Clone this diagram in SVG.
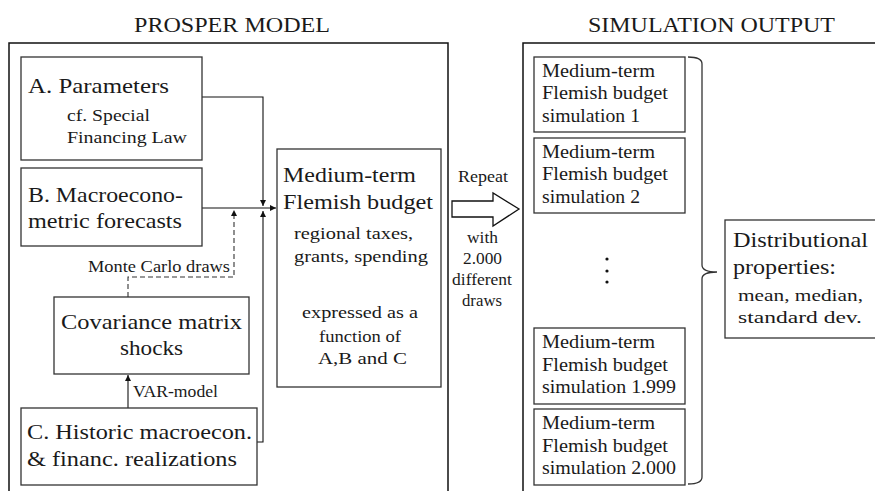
<svg xmlns="http://www.w3.org/2000/svg" width="875" height="491" viewBox="0 0 875 491" font-family="'Liberation Serif', 'DejaVu Serif', serif">
<style>
text{font-family:'Liberation Serif','DejaVu Serif',serif;fill:#1a1a1a}
.big{font-size:22px}
.mid{font-size:18px}
.sm{font-size:16.5px}
.ttl{font-size:20px}
.frame{fill:none;stroke:#111;stroke-width:1.5}
.box{fill:#fff;stroke:#333;stroke-width:1.3}
.con{fill:none;stroke:#111;stroke-width:1.1}
.dash{fill:none;stroke:#333;stroke-width:1.1;stroke-dasharray:5,3}
</style>
<defs>
<marker id="ah" markerUnits="userSpaceOnUse" markerWidth="7" markerHeight="6" refX="6" refY="3" orient="auto">
<path d="M0,0 L6,3 L0,6 z" fill="#111"/>
</marker>
</defs>
<rect width="875" height="491" fill="#fff"/>

<g id="prosper-frame">
<path class="frame" d="M9,495 V43 H448 V495"/>
<text class="ttl" x="134" y="32" textLength="196" lengthAdjust="spacingAndGlyphs">PROSPER MODEL</text>
</g>
<g id="simulation-frame">
<path class="frame" d="M523,495 V43 H880"/>
<text class="ttl" x="588" y="32" textLength="247" lengthAdjust="spacingAndGlyphs">SIMULATION OUTPUT</text>
</g>

<g id="connectors">
<path class="con" d="M202,97 H263 V206" marker-end="url(#ah)"/>
<path class="con" d="M202,208 H276" marker-end="url(#ah)"/>
<path class="con" d="M257,442 H263 V211" marker-end="url(#ah)"/>
<path class="con" d="M128,408 V375" marker-end="url(#ah)"/>
<path class="dash" d="M128,297 V277 H234 V214"/>
<path d="M231,216 L234,210 L237,216 z" fill="#111"/>
<text class="sm" x="88" y="272" textLength="142" lengthAdjust="spacingAndGlyphs">Monte Carlo draws</text>
<text class="sm" x="133" y="397" textLength="85" lengthAdjust="spacingAndGlyphs">VAR-model</text>
<path d="M452,201 H493 V193 L519,209 L493,226 V217 H452 z" fill="#fff" stroke="#111" stroke-width="1.3"/>
<text class="sm" x="458" y="182" textLength="50" lengthAdjust="spacingAndGlyphs">Repeat</text>
<text class="sm" x="467" y="243" textLength="31" lengthAdjust="spacingAndGlyphs">with</text>
<text class="sm" x="463" y="264" textLength="39" lengthAdjust="spacingAndGlyphs">2.000</text>
<text class="sm" x="452" y="285" textLength="60" lengthAdjust="spacingAndGlyphs">different</text>
<text class="sm" x="462" y="306" textLength="40" lengthAdjust="spacingAndGlyphs">draws</text>
<path d="M688,57 Q702,57 702,64 V265 Q702,272 717,272 Q702,272 702,279 V477 Q702,484 688,484" fill="none" stroke="#333" stroke-width="1.3"/>
</g>

<g id="node-a">
<rect class="box" x="21" y="57" width="181" height="103"/>
<text class="big" x="28" y="93" textLength="141" lengthAdjust="spacingAndGlyphs">A. Parameters</text>
<text class="sm" x="67" y="121" textLength="83" lengthAdjust="spacingAndGlyphs">cf. Special</text>
<text class="sm" x="67" y="143" textLength="120" lengthAdjust="spacingAndGlyphs">Financing Law</text>
</g>
<g id="node-b">
<rect class="box" x="21" y="168" width="181" height="78"/>
<text class="big" x="28" y="202" textLength="155" lengthAdjust="spacingAndGlyphs">B. Macroecono-</text>
<text class="big" x="28" y="228" textLength="154" lengthAdjust="spacingAndGlyphs">metric forecasts</text>
</g>
<g id="node-cov">
<rect class="box" x="54" y="297" width="195" height="77"/>
<text class="big" x="61" y="329" textLength="181" lengthAdjust="spacingAndGlyphs">Covariance matrix</text>
<text class="big" x="120" y="355" textLength="63" lengthAdjust="spacingAndGlyphs">shocks</text>
</g>
<g id="node-c">
<rect class="box" x="21" y="408" width="236" height="77"/>
<text class="big" x="27" y="439" textLength="225" lengthAdjust="spacingAndGlyphs">C. Historic macroecon.</text>
<text class="big" x="27" y="466" textLength="210" lengthAdjust="spacingAndGlyphs">&amp; financ. realizations</text>
</g>
<g id="node-budget">
<rect class="box" x="277" y="149" width="164" height="238"/>
<text class="big" x="283" y="182" textLength="133" lengthAdjust="spacingAndGlyphs">Medium-term</text>
<text class="big" x="283" y="209" textLength="150" lengthAdjust="spacingAndGlyphs">Flemish budget</text>
<text class="sm" x="294" y="239" textLength="119" lengthAdjust="spacingAndGlyphs">regional taxes,</text>
<text class="sm" x="294" y="262" textLength="134" lengthAdjust="spacingAndGlyphs">grants, spending</text>
<text class="sm" x="302" y="318" textLength="116" lengthAdjust="spacingAndGlyphs">expressed as a</text>
<text class="sm" x="319" y="342" textLength="82" lengthAdjust="spacingAndGlyphs">function of</text>
<text class="sm" x="318" y="364" textLength="89" lengthAdjust="spacingAndGlyphs">A,B and C</text>
</g>
<g id="sim-1">
<rect class="box" x="534" y="57" width="151" height="75"/>
<text class="mid" x="542" y="77" textLength="113" lengthAdjust="spacingAndGlyphs">Medium-term</text>
<text class="mid" x="542" y="99" textLength="126" lengthAdjust="spacingAndGlyphs">Flemish budget</text>
<text class="mid" x="542" y="122" textLength="98" lengthAdjust="spacingAndGlyphs">simulation 1</text>
</g>
<g id="sim-2">
<rect class="box" x="534" y="138" width="151" height="75"/>
<text class="mid" x="542" y="158" textLength="113" lengthAdjust="spacingAndGlyphs">Medium-term</text>
<text class="mid" x="542" y="180" textLength="126" lengthAdjust="spacingAndGlyphs">Flemish budget</text>
<text class="mid" x="542" y="203" textLength="98" lengthAdjust="spacingAndGlyphs">simulation 2</text>
</g>
<g id="dots">
<circle cx="607" cy="259" r="1.6" fill="#111"/>
<circle cx="607" cy="271" r="1.6" fill="#111"/>
<circle cx="607" cy="282" r="1.6" fill="#111"/>
</g>
<g id="sim-1999">
<rect class="box" x="534" y="328" width="151" height="76"/>
<text class="mid" x="542" y="348" textLength="113" lengthAdjust="spacingAndGlyphs">Medium-term</text>
<text class="mid" x="542" y="371" textLength="126" lengthAdjust="spacingAndGlyphs">Flemish budget</text>
<text class="mid" x="542" y="393" textLength="134" lengthAdjust="spacingAndGlyphs">simulation 1.999</text>
</g>
<g id="sim-2000">
<rect class="box" x="534" y="409" width="151" height="76"/>
<text class="mid" x="542" y="429" textLength="113" lengthAdjust="spacingAndGlyphs">Medium-term</text>
<text class="mid" x="542" y="452" textLength="126" lengthAdjust="spacingAndGlyphs">Flemish budget</text>
<text class="mid" x="542" y="474" textLength="134" lengthAdjust="spacingAndGlyphs">simulation 2.000</text>
</g>
<g id="node-dist">
<rect class="box" x="725" y="220" width="160" height="118"/>
<text class="big" x="733" y="247" textLength="135" lengthAdjust="spacingAndGlyphs">Distributional</text>
<text class="big" x="733" y="274" textLength="103" lengthAdjust="spacingAndGlyphs">properties:</text>
<text class="sm" x="738" y="301" textLength="125" lengthAdjust="spacingAndGlyphs">mean, median,</text>
<text class="sm" x="738" y="323" textLength="124" lengthAdjust="spacingAndGlyphs">standard dev.</text>
</g>
</svg>
